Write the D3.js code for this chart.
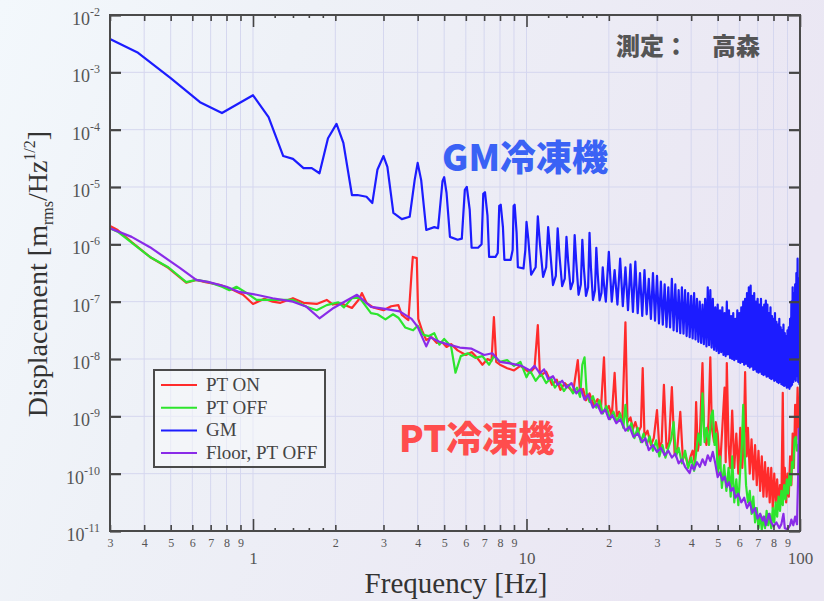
<!DOCTYPE html>
<html>
<head>
<meta charset="utf-8">
<script src="https://cdn.jsdelivr.net/npm/d3@7"></script>
<style>
body{margin:0;background:#ece9f4;}
svg text{font-family:"Liberation Serif","DejaVu Serif",serif;}
.jp{font-family:"Noto Sans CJK JP",sans-serif;font-weight:900;}
</style>
</head>
<body>
<svg id="chart" width="824" height="601"></svg>
<script>
// values are [frequency Hz, log10(displacement)]
const ptOnLog = [[0.3,-5.68],[0.32,-5.75],[0.36,-5.96],[0.42,-6.22],[0.49,-6.41],[0.57,-6.67],[0.62,-6.62],[0.67,-6.66],
  [0.76,-6.71],[0.85,-6.80],[0.92,-6.88],[1.0,-7.04],[1.1,-6.95],[1.18,-7.0],[1.26,-7.02],[1.4,-6.94],[1.53,-7.02],
  [1.71,-7.04],[1.86,-6.97],[1.96,-7.05],[2.1,-7.03],[2.3,-7.11],[2.45,-6.95],[2.5,-6.85],[2.6,-7.02],[2.75,-7.1],
  [3.0,-7.15],[3.2,-7.08],[3.4,-7.06],[3.5,-7.23],[3.7,-7.32],[3.8,-6.5],[3.84,-6.22],[3.97,-6.24],[4.02,-7.3],
  [4.15,-7.5],[4.3,-7.67],[4.5,-7.62],[4.7,-7.72],[4.9,-7.7],[5.1,-7.79],[5.3,-7.74],[5.6,-7.85],[6.0,-7.93],
  [6.3,-7.88],[6.6,-7.98],[6.9,-8.1],[7.2,-8.0],[7.45,-8.03],[7.6,-7.27],[7.75,-8.05],[8.0,-8.1],[8.5,-8.16],
  [9.0,-8.2],[9.5,-8.12],[10.3,-8.24],[10.7,-8.15],[11.0,-7.41],[11.2,-8.3],[11.8,-8.22],[12.4,-8.45],[12.9,-8.36],
  [13.3,-8.54],[13.8,-8.42],[14.3,-8.5],[14.8,-8.58],[15.4,-8.02],[15.7,-8.6],[16.1,-8.52],[16.5,-8.72],[17.0,-8.6],
  [17.6,-8.8],[18.2,-8.7],[18.7,-8.9],[19.2,-7.97],[19.5,-8.9],[20.0,-8.82],[20.5,-9.0],[21.0,-8.24],[21.4,-9.0],
  [21.8,-8.92],[22.4,-9.1],[23.0,-7.36],[23.4,-9.1],[24.0,-9.02],[24.5,-9.22],[25.0,-9.1],[25.6,-9.28],[26.2,-9.18],
  [26.6,-8.16],[27.0,-9.35],[27.7,-9.25],[28.5,-9.5],[29.2,-9.38],[30.0,-8.89],[30.6,-9.55],[31.2,-9.45],[31.8,-8.45],
  [32.5,-9.55],[33.2,-9.45],[34.0,-8.49],[34.8,-9.65],[35.6,-9.55],[36.5,-8.92],[37.3,-9.75],[38.0,-9.65],[39.0,-9.88],
  [39.8,-9.7],[40.5,-9.6],[41.2,-9.8],[41.7,-8.75],[42.3,-9.6],[43.0,-9.4],[44.0,-8.07],[44.6,-9.3],[45.5,-9.5],
  [46.3,-9.1],[47.0,-7.97],[47.6,-9.2],[48.5,-9.45],[49.2,-9.1],[50.0,-9.3],[51.0,-9.9],[52.0,-9.2],[53.0,-8.5],
  [53.5,-9.8],[54.0,-8.07],[54.8,-9.5],[55.5,-9.9],[56.5,-8.9],[57.5,-9.9],[58.5,-9.3],[59.5,-10.0],[60.5,-9.2],
  [61.5,-9.9],[62.3,-9.4],[63.0,-8.23],[63.8,-9.7],[64.5,-9.2],[65.5,-10.0],[66.5,-9.4],[67.5,-10.1],[68.5,-9.5],
  [69.5,-10.2],[70.5,-9.6],[71.5,-10.3],[72.5,-9.7],[73.5,-10.4],[74.5,-9.8],[75.5,-10.4],[76.5,-9.9],[77.5,-10.5],
  [78.5,-9.9],[79.5,-10.6],[80.5,-10.0],[81.5,-10.5],[82.5,-10.1],[83.5,-10.6],[84.5,-10.2],[85.5,-10.5],[86.5,-8.59],
  [87.2,-10.3],[88.0,-9.9],[89.0,-10.5],[90.0,-10.0],[91.0,-10.4],[92.0,-9.7],[93.0,-10.2],[94.0,-9.3],[95.0,-9.9],
  [96.0,-8.8],[97.0,-9.4],[98.0,-8.5],[99.0,-9.2],[100,-8.9]];

const ptOffLog = [[0.3,-5.72],[0.32,-5.78],[0.36,-5.97],[0.42,-6.22],[0.49,-6.40],[0.57,-6.66],[0.62,-6.62],[0.69,-6.66],
  [0.77,-6.74],[0.82,-6.80],[0.87,-6.74],[0.95,-6.85],[1.03,-6.97],[1.15,-6.97],[1.26,-6.97],[1.4,-6.97],[1.57,-7.09],
  [1.71,-7.15],[1.86,-7.06],[2.05,-7.01],[2.15,-7.1],[2.3,-6.94],[2.45,-6.93],[2.7,-7.2],[2.85,-7.22],[3.05,-7.31],
  [3.25,-7.22],[3.4,-7.28],[3.6,-7.45],[3.85,-7.5],[4.0,-7.42],[4.2,-7.58],[4.4,-7.6],[4.6,-7.55],[4.8,-7.75],
  [5.0,-7.65],[5.3,-7.78],[5.5,-8.24],[5.75,-7.95],[6.1,-7.9],[6.5,-7.98],[6.9,-7.95],[7.3,-8.1],[7.6,-7.95],
  [8.0,-8.05],[8.5,-8.02],[9.0,-8.12],[9.5,-8.05],[10.0,-8.32],[10.3,-8.2],[10.8,-8.38],[11.3,-8.26],[11.8,-8.42],
  [12.3,-8.33],[12.7,-8.5],[13.2,-8.4],[13.7,-8.56],[14.2,-8.45],[14.8,-8.6],[15.3,-8.5],[15.7,-8.66],[16.0,-8.1],
  [16.3,-7.97],[16.6,-8.6],[17.0,-8.75],[17.5,-8.65],[18.0,-8.85],[18.5,-8.72],[19.0,-8.95],[19.6,-8.82],[20.2,-9.05],
  [20.8,-8.92],[21.4,-9.1],[22.0,-8.95],[22.6,-9.2],[23.0,-8.8],[23.5,-9.25],[24.2,-9.12],[24.8,-9.38],[25.5,-9.2],
  [26.2,-9.45],[26.8,-9.3],[27.5,-9.5],[28.2,-9.35],[29.0,-9.6],[29.8,-9.42],[30.6,-9.7],[31.4,-9.5],[32.2,-9.72],
  [33.0,-9.55],[33.8,-9.4],[34.5,-9.1],[35.2,-9.7],[36.0,-9.55],[37.0,-9.82],[38.0,-9.6],[39.0,-9.9],[40.0,-9.72],
  [41.0,-9.95],[41.8,-9.6],[42.5,-9.3],[43.3,-9.5],[44.0,-8.6],[44.8,-9.45],[45.5,-9.2],[46.5,-9.5],[47.3,-9.0],
  [48.0,-8.9],[48.7,-9.5],[49.4,-9.3],[50.0,-10.0],[51.0,-9.7],[51.8,-10.25],[52.8,-9.85],[53.8,-10.3],[54.8,-9.9],
  [55.8,-10.4],[56.5,-9.7],[57.5,-10.5],[58.5,-10.1],[59.5,-10.55],[60.5,-9.9],[61.3,-9.5],[62.0,-8.8],[62.7,-9.6],
  [63.5,-10.2],[64.5,-10.5],[65.5,-10.3],[66.5,-10.7],[67.5,-10.4],[68.5,-10.85],[69.5,-10.6],[70.5,-10.95],
  [71.5,-10.7],[72.5,-10.98],[73.5,-10.75],[74.5,-10.95],[75.5,-10.65],[76.5,-10.9],[77.5,-10.7],[78.5,-10.95],
  [79.5,-10.6],[80.5,-10.85],[81.5,-10.5],[82.5,-10.75],[83.5,-10.4],[84.5,-10.65],[85.5,-10.3],[86.5,-10.55],
  [87.5,-10.2],[88.5,-10.45],[89.5,-10.1],[90.5,-10.35],[91.5,-10.0],[92.5,-10.2],[93.5,-9.8],[94.5,-9.9],
  [95.5,-9.4],[96.5,-9.36],[97.5,-9.6],[98.5,-9.5],[100,-9.8]];

const floorLog = [[0.3,-5.72],[0.36,-5.87],[0.42,-6.05],[0.49,-6.27],[0.54,-6.41],[0.62,-6.62],[0.69,-6.66],[0.8,-6.74],
  [0.89,-6.83],[1.03,-6.88],[1.18,-6.94],[1.4,-7.0],[1.57,-7.09],[1.75,-7.29],[1.97,-7.11],[2.2,-6.98],[2.4,-6.88],
  [2.7,-7.09],[3.0,-7.12],[3.44,-7.17],[3.8,-7.3],[4.0,-7.44],[4.3,-7.78],[4.45,-7.62],[4.8,-7.7],[5.2,-7.75],
  [5.7,-7.8],[6.3,-7.82],[7.0,-7.93],[7.5,-7.9],[8.0,-8.05],[8.8,-8.08],[9.6,-8.12],[10.3,-8.2],[10.7,-8.12],
  [11.2,-8.25],[11.6,-8.18],[12.0,-8.35],[12.5,-8.3],[13.0,-8.45],[13.5,-8.38],[14.0,-8.5],[14.6,-8.42],[15.2,-8.6],
  [15.8,-8.52],[16.3,-8.71],[16.8,-8.62],[17.5,-8.85],[18.1,-8.78],[18.8,-8.95],[19.4,-8.88],[20.0,-9.05],[20.6,-8.98],
  [21.3,-9.12],[22.0,-9.05],[23.0,-9.25],[23.8,-9.18],[24.6,-9.36],[25.5,-9.3],[26.5,-9.45],[27.2,-9.38],[28.0,-9.59],
  [29.0,-9.5],[30.0,-9.62],[31.0,-9.55],[32.0,-9.68],[33.0,-9.6],[34.0,-9.72],[35.0,-9.65],[36.0,-9.82],[37.0,-9.75],
  [38.0,-9.88],[39.5,-9.99],[40.2,-9.85],[41.0,-9.93],[42.0,-9.8],[43.0,-9.88],[44.0,-9.75],[45.0,-9.85],[46.0,-9.68],
  [47.0,-9.78],[48.0,-9.62],[49.0,-9.82],[50.0,-10.06],[51.0,-9.98],[52.0,-10.12],[53.0,-10.05],[54.0,-10.23],
  [55.0,-10.15],[56.0,-10.3],[57.0,-10.25],[58.0,-10.42],[59.5,-10.35],[61.0,-10.5],[62.5,-10.42],[64.0,-10.6],
  [65.5,-10.5],[67.0,-10.68],[68.5,-10.6],[70.0,-10.78],[71.5,-10.7],[73.0,-10.82],[74.0,-10.75],[75.0,-10.9],
  [76.0,-10.8],[77.0,-10.7],[78.5,-10.85],[80.0,-10.92],[82.0,-10.85],[84.0,-10.95],[85.5,-10.88],[87.0,-10.7],
  [88.0,-10.95],[90.0,-10.97],[92.0,-10.9],[93.0,-10.8],[94.5,-10.9],[96.0,-10.75],[97.5,-10.88],[98.5,-10.0],[99.0,-9.2]];

// GM below 20 Hz, traced point by point
const gmLowLog = [[0.3,-2.42],[0.38,-2.66],[0.5,-3.1],[0.64,-3.52],[0.77,-3.71],[1.0,-3.40],[1.14,-3.78],[1.29,-4.46],
  [1.40,-4.51],[1.53,-4.67],[1.64,-4.67],[1.75,-4.76],[1.88,-4.15],[2.02,-3.90],[2.14,-4.23],[2.3,-5.14],[2.41,-5.14],
  [2.6,-5.17],[2.73,-5.28],[2.85,-4.70],[3.0,-4.46],[3.1,-4.65],[3.26,-5.45],[3.5,-5.56],[3.74,-5.52],[3.9,-4.88],
  [4.0,-4.58],[4.12,-4.88],[4.3,-5.75],[4.6,-5.70],[4.75,-5.72],[4.93,-4.9],[5.0,-4.83],[5.1,-5.1],[5.25,-5.87],
  [5.6,-5.92],[5.8,-5.9],[5.95,-5.05],[6.05,-5.0],[6.2,-5.4],[6.3,-6.06],[6.65,-6.06],[6.85,-6.0],[6.95,-5.12],
  [7.05,-5.09],[7.2,-5.5],[7.3,-6.22],[7.7,-6.22],[7.85,-6.15],[7.95,-5.33],[8.05,-5.31],[8.2,-5.7],[8.3,-6.27],
  [8.75,-6.27],[8.9,-6.1],[8.97,-5.33],[9.05,-5.31],[9.2,-5.8],[9.3,-6.40],[9.75,-6.42],[9.9,-6.1],[10.0,-5.61],
  [10.15,-5.9],[10.4,-6.53],[10.8,-6.4],[11.0,-5.51],[11.2,-6.0],[11.5,-6.57],[11.8,-6.4],[12.0,-5.70],[12.2,-6.1],
  [12.5,-6.71],[12.8,-6.55],[13.0,-5.72],[13.2,-6.2],[13.5,-6.73],[13.8,-6.6],[14.0,-5.87],[14.2,-6.3],[14.5,-6.78],
  [14.8,-6.65],[15.0,-5.84],[15.2,-6.3],[15.5,-6.88],[15.8,-6.7],[16.0,-5.92],[16.2,-6.4],[16.5,-6.9],[16.8,-6.75],
  [17.0,-5.80],[17.2,-6.4],[17.5,-6.97],[17.8,-6.8],[18.0,-6.06],[18.2,-6.5],[18.5,-6.98],[18.8,-6.85],[19.0,-6.40],
  [19.2,-6.7],[19.5,-7.0]];

// GM harmonics at 20..99 Hz: peak on the harmonic, trough half way to the next
const gmPeakLog = [
  -6.13,-6.45,-6.25,-6.40,-6.35,-6.30,-6.50,-6.45,-6.60,-6.50,
  -6.55,-6.65,-6.70,-6.75,-6.60,-6.70,-6.80,-6.75,-6.80,-6.85,
  -6.90,-6.85,-6.95,-7.00,-7.05,-6.95,-6.75,-6.80,-6.95,-7.10,
  -7.05,-7.15,-7.10,-7.20,-7.00,-7.15,-7.25,-7.20,-7.30,-7.15,
  -7.20,-7.10,-7.00,-6.95,-6.85,-6.75,-6.72,-6.90,-6.85,-7.00,
  -6.95,-7.05,-6.95,-7.10,-7.05,-6.98,-7.05,-7.20,-7.10,-7.25,
  -7.30,-7.20,-7.35,-7.40,-7.30,-7.45,-7.50,-7.40,-7.55,-7.60,
  -7.50,-7.45,-7.30,-7.00,-6.75,-6.85,-6.70,-6.50,-6.25,-6.60];
const gmTroughLog = [
  -7.00,-7.05,-7.08,-7.15,-7.18,-7.20,-7.25,-7.22,-7.30,-7.33,
  -7.38,-7.40,-7.44,-7.45,-7.50,-7.52,-7.55,-7.56,-7.60,-7.62,
  -7.64,-7.66,-7.70,-7.72,-7.74,-7.78,-7.76,-7.80,-7.84,-7.86,
  -7.90,-7.88,-7.93,-7.95,-7.92,-7.98,-8.00,-8.02,-8.00,-8.05,
  -8.07,-8.05,-8.10,-8.08,-8.12,-8.15,-8.13,-8.19,-8.18,-8.22,
  -8.24,-8.22,-8.26,-8.28,-8.27,-8.31,-8.30,-8.33,-8.35,-8.34,
  -8.38,-8.37,-8.40,-8.42,-8.40,-8.44,-8.45,-8.47,-8.46,-8.50,
  -8.49,-8.52,-8.48,-8.45,-8.40,-8.35,-8.38,-8.30,-8.40,-8.45];
const gmFirstHarmonic = 20;

const seriesNames = ["PT ON", "PT OFF", "GM", "Floor, PT OFF"];
const xTickVals = [0.3,0.4,0.5,0.6,0.7,0.8,0.9,1,1.2,1.4,1.6,1.8,2,3,4,5,6,7,8,9,10,12,14,16,18,20,30,40,50,60,70,80,90,100];
const yDecades = [-11,-10,-9,-8,-7,-6,-5,-4,-3,-2];

const colors = ["#ff2b2b", "#2de52d", "#1c1cff", "#8a2be8"];
const W = 824, H = 601;
const L = 110, R = 800, T = 15, B = 531;

const svg = d3.select("#chart");
const defs = svg.append("defs");
const bg = defs.append("linearGradient").attr("id", "bg").attr("x1", 0).attr("y1", 0).attr("x2", 1).attr("y2", 0.3);
bg.append("stop").attr("offset", "0%").attr("stop-color", "#f3f8fc");
bg.append("stop").attr("offset", "35%").attr("stop-color", "#eef1f7");
bg.append("stop").attr("offset", "100%").attr("stop-color", "#eae6f3");
defs.append("clipPath").attr("id", "plotclip").append("rect")
  .attr("x", L).attr("y", T).attr("width", R - L).attr("height", B - T);

svg.append("rect").attr("width", W).attr("height", H).attr("fill", "url(#bg)");

const x = d3.scaleLog().domain([0.3, 100]).range([L, R]);
const y = d3.scaleLog().domain([1e-11, 1e-2]).range([B, T]);

const isDecade = d => Math.abs(Math.log10(d) - Math.round(Math.log10(d))) < 1e-9;
const mant = d => d / Math.pow(10, Math.floor(Math.log10(d) + 1e-9));
const isWhole = d => Math.abs(mant(d) - Math.round(mant(d))) < 1e-6;

// grid
const grid = svg.append("g").attr("stroke", "#d5d7ef").attr("stroke-width", 1);
grid.selectAll("line.gx").data(xTickVals.filter(d => isWhole(d) && d > 0.3 && d < 100)).join("line")
  .attr("class", "gx").attr("x1", d => x(d)).attr("x2", d => x(d)).attr("y1", T).attr("y2", B);
grid.selectAll("line.gy").data(yDecades.slice(1, -1)).join("line")
  .attr("class", "gy").attr("x1", L).attr("x2", R).attr("y1", d => y(10 ** d)).attr("y2", d => y(10 ** d));

// build GM from low part + harmonics
const gmLog = gmLowLog.slice();
gmPeakLog.forEach((p, i) => {
  gmLog.push([gmFirstHarmonic + i, p]);
  gmLog.push([gmFirstHarmonic + i + 0.5, gmTroughLog[i]]);
});

const line = d3.line().x(d => x(d[0])).y(d => y(10 ** d[1]));
const plot = svg.append("g").attr("clip-path", "url(#plotclip)");
const allSeries = [ptOnLog, ptOffLog, gmLog, floorLog];
plot.selectAll("path").data(allSeries).join("path")
  .attr("d", line)
  .attr("fill", "none")
  .attr("stroke", (d, i) => colors[i])
  .attr("stroke-width", 2.2)
  .attr("stroke-linejoin", "round");

// axes
const tickLen = d => isDecade(d) ? 12 : (isWhole(d) ? 6 : 3);
const fmtX = d => isDecade(d) ? String(d) : (isWhole(d) ? String(Math.round(mant(d))) : "");

const gb = svg.append("g").attr("transform", `translate(0,${B})`)
  .call(d3.axisBottom(x).tickValues(xTickVals).tickSizeInner(-6).tickSizeOuter(0).tickFormat(fmtX));
gb.select(".domain").remove();
gb.selectAll(".tick line").attr("y2", d => -tickLen(d)).attr("stroke", "#444").attr("stroke-width", 1.6);
gb.selectAll(".tick text")
  .attr("y", d => isDecade(d) ? 21 : 7)
  .attr("fill", "#555")
  .style("font-size", d => isDecade(d) ? "17px" : "12px")
  .style("font-family", "'Liberation Serif',serif");

const gt = svg.append("g").attr("transform", `translate(0,${T})`)
  .call(d3.axisTop(x).tickValues(xTickVals).tickSizeInner(-6).tickSizeOuter(0).tickFormat(""));
gt.select(".domain").remove();
gt.selectAll(".tick line").attr("y2", d => tickLen(d)).attr("stroke", "#444").attr("stroke-width", 1.6);

const yTickVals = yDecades.map(e => 10 ** e);
const gl = svg.append("g").attr("transform", `translate(${L},0)`)
  .call(d3.axisLeft(y).tickValues(yTickVals).tickSizeInner(-11).tickSizeOuter(0).tickFormat(""));
gl.select(".domain").remove();
gl.selectAll(".tick line").attr("stroke", "#444").attr("stroke-width", 2.2);
const gr = svg.append("g").attr("transform", `translate(${R},0)`)
  .call(d3.axisRight(y).tickValues(yTickVals).tickSizeInner(-11).tickSizeOuter(0).tickFormat(""));
gr.select(".domain").remove();
gr.selectAll(".tick line").attr("stroke", "#444").attr("stroke-width", 2.2);

// y tick labels 10^n
const yl = svg.append("g").selectAll("text").data(yDecades).join("text")
  .attr("x", 100).attr("y", d => y(10 ** d) + 10)
  .attr("text-anchor", "end").attr("fill", "#555");
yl.append("tspan").style("font-size", "18px").text("10");
yl.append("tspan").style("font-size", "12px").attr("dy", -9).text(d => String(d));

// frame
svg.append("rect").attr("x", L).attr("y", T).attr("width", R - L).attr("height", B - T)
  .attr("fill", "none").attr("stroke", "#4a4a4a").attr("stroke-width", 2);

// axis titles
svg.append("text").attr("x", 456).attr("y", 593).attr("text-anchor", "middle")
  .attr("fill", "#333").style("font-size", "29px").text("Frequency [Hz]");
const yt = svg.append("text").attr("transform", "translate(47,274) rotate(-90)")
  .attr("text-anchor", "middle").attr("fill", "#333").style("font-size", "28px");
yt.append("tspan").text("Displacement [m");
yt.append("tspan").style("font-size", "16px").attr("dy", 6).text("rms");
yt.append("tspan").attr("dy", -6).text("/Hz");
yt.append("tspan").style("font-size", "16px").attr("dy", -12).text("1/2");
yt.append("tspan").attr("dy", 12).text("]");

// legend
const lg = svg.append("g");
lg.append("rect").attr("x", 154).attr("y", 370).attr("width", 171).attr("height", 97)
  .attr("fill", "rgba(247,249,252,0.55)").attr("stroke", "#4a4a4a").attr("stroke-width", 2);
const rows = lg.selectAll("g.row").data(seriesNames).join("g").attr("class", "row")
  .attr("transform", (d, i) => `translate(0,${385 + i * 22.7})`);
rows.append("line").attr("x1", 161).attr("x2", 197).attr("stroke", (d, i) => colors[i]).attr("stroke-width", 2);
rows.append("text").attr("x", 206).attr("y", 6).attr("fill", "#444").style("font-size", "19px").text(d => d);

// annotations
svg.append("text").attr("class", "jp").attr("x", 616).attr("y", 55).attr("fill", "#555")
  .style("font-size", "24px").text("測定：　高森");
svg.append("text").attr("class", "jp").attr("x", 442).attr("y", 171).attr("fill", "#3a62f5")
  .style("font-size", "36px").text("GM冷凍機");
svg.append("text").attr("class", "jp").attr("x", 399).attr("y", 452).attr("fill", "#ff4d4d")
  .style("font-size", "36px").text("PT冷凍機");
</script>
</body>
</html>
